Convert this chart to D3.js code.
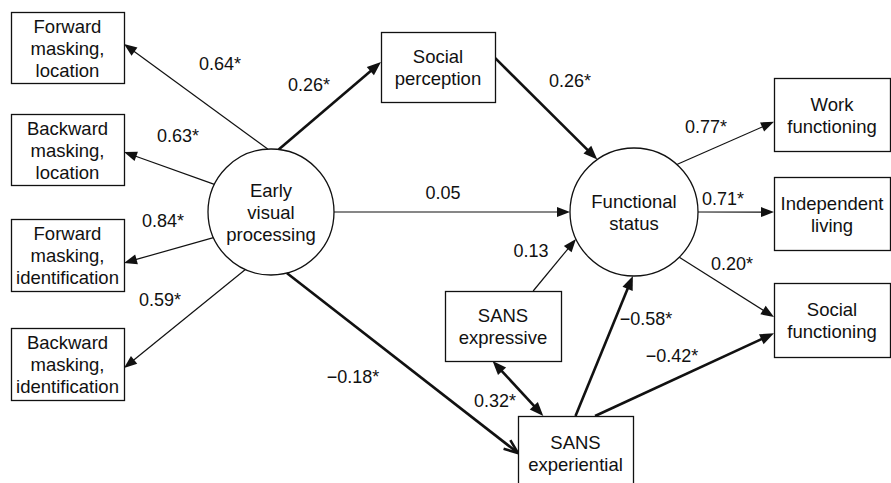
<!DOCTYPE html>
<html>
<head>
<meta charset="utf-8">
<script src="https://cdn.jsdelivr.net/npm/d3@7"></script>
<style>
    html, body { margin: 0; padding: 0; background: #fff; }
    svg { display: block; }
</style>
</head>
<body>
<svg id="chart" width="891" height="483"></svg>
<script>
// 節點
const nodeIds = ['fml', 'bml', 'fmi', 'bmi', 'evp', 'sp', 'fs', 'work', 'indep', 'socf', 'sexp', 'sexq']
const nodeNames = [
    ['Forward', 'masking,', 'location'],
    ['Backward', 'masking,', 'location'],
    ['Forward', 'masking,', 'identification'],
    ['Backward', 'masking,', 'identification'],
    ['Early', 'visual', 'processing'],
    ['Social', 'perception'],
    ['Functional', 'status'],
    ['Work', 'functioning'],
    ['Independent', 'living'],
    ['Social', 'functioning'],
    ['SANS', 'expressive'],
    ['SANS', 'experiential']
]
// 潛在變量 (圓形)
const latentNodes = ['evp', 'fs']

// 路徑係數
const pathFrom = ['evp', 'evp', 'evp', 'evp', 'evp', 'sp', 'evp', 'evp', 'fs', 'fs', 'fs', 'sexp', 'sexq', 'sexq', 'sexp']
const pathTo = ['fml', 'bml', 'fmi', 'bmi', 'sp', 'fs', 'fs', 'sexq', 'work', 'indep', 'socf', 'fs', 'fs', 'socf', 'sexq']
const pathCoef = [0.64, 0.63, 0.84, 0.59, 0.26, 0.26, 0.05, -0.18, 0.77, 0.71, 0.2, 0.13, -0.58, -0.42, 0.32]
const pathSig = [true, true, true, true, true, true, false, true, true, true, true, false, true, true, true]
const pathKind = ['loading', 'loading', 'loading', 'loading', 'structural', 'structural', 'structural', 'structural',
    'loading', 'loading', 'loading', 'structural', 'structural', 'structural', 'correlation']

// 版面: 方框 x,y,w,h / 圓 cx,cy,r
const layout = {
    nodes: {
        fml: { x: 11, y: 12, w: 113, h: 71 },
        bml: { x: 11, y: 114, w: 113, h: 71 },
        fmi: { x: 11, y: 219, w: 113, h: 72 },
        bmi: { x: 11, y: 328, w: 113, h: 72 },
        evp: { cx: 271, cy: 212, r: 63 },
        sp: { x: 381, y: 32, w: 114, h: 70 },
        fs: { cx: 634, cy: 212, r: 64 },
        work: { x: 774, y: 78, w: 116, h: 73 },
        indep: { x: 774, y: 177, w: 116, h: 73 },
        socf: { x: 774, y: 283, w: 116, h: 74 },
        sexp: { x: 445, y: 291, w: 116, h: 70 },
        sexq: { x: 518, y: 416, w: 115, h: 74 }
    },
    // 圓: 角度; 方框: [邊, 比例]
    paths: [
        { a: -93, b: ['right', 0.45], label: [220, 63] },
        { a: -154, b: ['right', 0.535], label: [178, 135] },
        { a: 156, b: ['right', 0.61], label: [163, 220] },
        { a: 114, b: ['right', 0.555], label: [160, 299] },
        { a: -83, b: ['left', 0.43], label: [309, 84] },
        { a: ['right', 0.37], b: -125, label: [570, 80] },
        { a: 0, b: 180, label: [443, 192] },
        { a: 75.5, b: ['left', 0.5], label: [353, 376], head: 'open' },
        { a: -48, b: ['left', 0.6], label: [706, 126] },
        { a: 0, b: ['left', 0.48], label: [723, 198] },
        { a: 45, b: ['left', 0.46], label: [732, 263] },
        { a: ['top', 0.76], b: 155, label: [531, 250] },
        { a: ['top', 0.5], b: 91, label: [646, 318] },
        { a: ['top', 0.67], b: ['left', 0.68], label: [672, 355] },
        { a: ['bottom', 0.41], b: ['top', 0.22], label: [495, 400] }
    ]
}

const fontFamily = "'Liberation Sans', Arial, Helvetica, sans-serif"
const fmt = d3.format('.2f')

const diagram = {
    svg: d3.select('#chart'),

    show: function () {
        this.drawPaths()
        this.drawNodes()
        this.drawLabels()
    },

    // 節點邊緣上的點
    anchor: function (id, a) {
        const n = layout.nodes[id]
        if (n.r) {
            const t = (a * Math.PI) / 180
            return [n.cx + n.r * Math.cos(t), n.cy + n.r * Math.sin(t)]
        }
        const [side, f] = a
        if (side === 'left') return [n.x, n.y + f * n.h]
        if (side === 'right') return [n.x + n.w, n.y + f * n.h]
        if (side === 'top') return [n.x + f * n.w, n.y]
        return [n.x + f * n.w, n.y + n.h]
    },

    // 方框與圓
    drawNodes: function () {
        const g = this.svg.append('g')
        const nodes = g.selectAll('g.node')
            .data(nodeIds.map((id, i) => ({ id, lines: nodeNames[i], latent: latentNodes.includes(id) })))
            .enter()
            .append('g')
            .attr('class', 'node')

        nodes.filter((d) => d.latent)
            .append('circle')
            .attr('cx', (d) => layout.nodes[d.id].cx)
            .attr('cy', (d) => layout.nodes[d.id].cy)
            .attr('r', (d) => layout.nodes[d.id].r)
            .attr('fill', 'white')
            .attr('stroke', '#111')
            .attr('stroke-width', 1.3)

        nodes.filter((d) => !d.latent)
            .append('rect')
            .attr('x', (d) => layout.nodes[d.id].x + 0.5)
            .attr('y', (d) => layout.nodes[d.id].y + 0.5)
            .attr('width', (d) => layout.nodes[d.id].w)
            .attr('height', (d) => layout.nodes[d.id].h)
            .attr('fill', 'white')
            .attr('stroke', '#111')
            .attr('stroke-width', 1.3)

        nodes.each(function (d) {
            const n = layout.nodes[d.id]
            const cx = n.r ? n.cx : n.x + n.w / 2
            const cy = n.r ? n.cy : n.y + n.h / 2
            const text = d3.select(this)
                .append('text')
                .attr('text-anchor', 'middle')
                .attr('font-family', fontFamily)
                .attr('font-size', '18.5px')
                .attr('fill', '#111')
            d.lines.forEach((line, i) => {
                text.append('tspan')
                    .attr('x', cx)
                    .attr('y', cy + (i - (d.lines.length - 1) / 2) * 22 + 7)
                    .text(line)
            })
        })
    },

    // 箭頭
    drawPaths: function () {
        const g = this.svg.append('g')
        const _this = this
        pathFrom.forEach((from, i) => {
            const lay = layout.paths[i]
            const thick = pathKind[i] === 'correlation' || (pathKind[i] === 'structural' && pathSig[i])
            const width = thick ? 2.6 : 1.2
            let p0 = _this.anchor(from, lay.a)
            let p1 = _this.anchor(pathTo[i], lay.b)
            const len = Math.hypot(p1[0] - p0[0], p1[1] - p0[1])
            const ux = (p1[0] - p0[0]) / len
            const uy = (p1[1] - p0[1]) / len
            const headLen = thick ? 14 : 13
            const headW = thick ? 5.5 : 5
            const open = lay.head === 'open'

            // 線段縮短, 避免蓋過箭頭尖端
            const cut = open ? 2 : headLen - 2
            const s0 = pathKind[i] === 'correlation' ? [p0[0] + ux * cut, p0[1] + uy * cut] : p0
            const s1 = [p1[0] - ux * cut, p1[1] - uy * cut]
            g.append('line')
                .attr('x1', s0[0])
                .attr('y1', s0[1])
                .attr('x2', s1[0])
                .attr('y2', s1[1])
                .attr('stroke', '#111')
                .attr('stroke-width', width)

            const head = (tip, dx, dy) => {
                const bx = tip[0] - dx * headLen
                const by = tip[1] - dy * headLen
                const l = [bx - dy * headW, by + dx * headW]
                const r = [bx + dy * headW, by - dx * headW]
                if (open) {
                    g.append('path')
                        .attr('d', `M${l[0]},${l[1]}L${tip[0]},${tip[1]}L${r[0]},${r[1]}`)
                        .attr('fill', 'none')
                        .attr('stroke', '#111')
                        .attr('stroke-width', width)
                        .attr('stroke-linejoin', 'miter')
                } else {
                    g.append('path')
                        .attr('d', `M${tip[0]},${tip[1]}L${l[0]},${l[1]}L${r[0]},${r[1]}Z`)
                        .attr('fill', '#111')
                }
            }
            head(p1, ux, uy)
            if (pathKind[i] === 'correlation') head(p0, -ux, -uy)
        })
    },

    // 係數標籤
    drawLabels: function () {
        this.svg.append('g')
            .selectAll('text')
            .data(pathCoef.map((c, i) => ({ text: fmt(c) + (pathSig[i] ? '*' : ''), pos: layout.paths[i].label })))
            .enter()
            .append('text')
            .text((d) => d.text)
            .attr('x', (d) => d.pos[0])
            .attr('y', (d) => d.pos[1] + 6.5)
            .attr('text-anchor', 'middle')
            .attr('font-family', fontFamily)
            .attr('font-size', '18px')
            .attr('fill', '#111')
    }
}

diagram.show()
</script>
</body>
</html>
